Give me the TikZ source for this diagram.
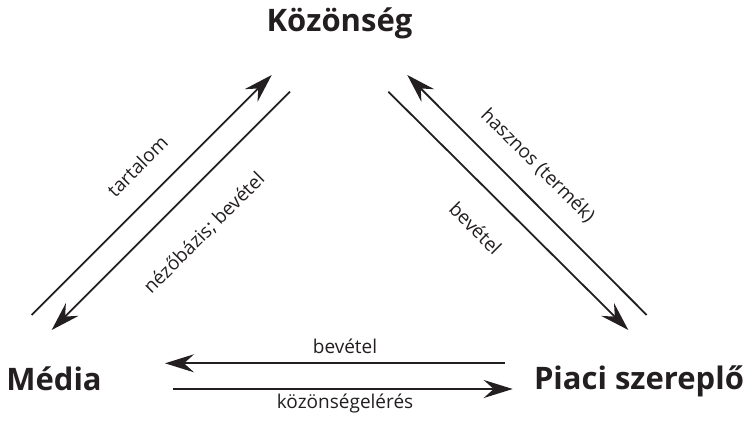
\documentclass[tikz,border=0pt]{standalone}
\usepackage{fontspec}
\setmainfont{Open Sans}
\usetikzlibrary{arrows.meta}
\definecolor{ink}{HTML}{231F20}
\begin{document}
\begin{tikzpicture}[x=1pt,y=-1pt,
  actor/.style={font=\bfseries\fontsize{31}{34}\selectfont, text=ink, inner sep=0pt, anchor=base},
  lbl/.style={font=\fontsize{19}{21}\selectfont, text=ink, inner sep=0pt},
  flow/.style={draw=ink, line width=1.8pt, -{Stealth[length=29pt,width=18pt,inset=10pt]}},
  plain/.style={draw=ink, line width=1.8pt}]
\useasboundingbox[fill=white] (0,0) rectangle (745,425);
% actors
\node[actor] (koz) at (339.5,32) {Közönség};
\node[actor] (med) at (54,390) {Média};
\node[actor] (pia) at (639,389) {Piaci szereplő};
% endpoints
\coordinate (tS) at (31.7,315);
\coordinate (tE) at (271.7,75);
\coordinate (nS) at (290,91.7);
\coordinate (nE) at (51.7,330);
\coordinate (bS) at (388.3,91.7);
\coordinate (bE) at (628.3,330);
\coordinate (hS) at (646.7,315);
\coordinate (hE) at (407.3,75);
\coordinate (rS) at (505,363.3);
\coordinate (rE) at (165,363.3);
\coordinate (kS) at (172.7,389);
\coordinate (kE) at (512.7,389);
% connectors
\draw[flow] (tS) -- (tE);
\draw[flow] (nS) -- (nE);
\draw[flow] (bS) -- (bE);
\draw[flow] (hS) -- (hE);
\draw[flow] (rS) -- (rE);
\draw[flow] (kS) -- (kE);
% labels
\node[lbl, rotate=45] (l1) at (137.3,166.3) {tartalom};
\node[lbl, rotate=45] (l2) at (204.3,233.3) {nézőbázis; bevétel};
\node[lbl, rotate=-45] (l3) at (537.7,165.7) {hasznos (termék)};
\node[lbl, rotate=-45] (l4) at (475.7,228.3) {bevétel};
\node[lbl] (l5) at (345,346) {bevétel};
\node[lbl] (l6) at (345,404) {közönségelérés};
\end{tikzpicture}
\end{document}
